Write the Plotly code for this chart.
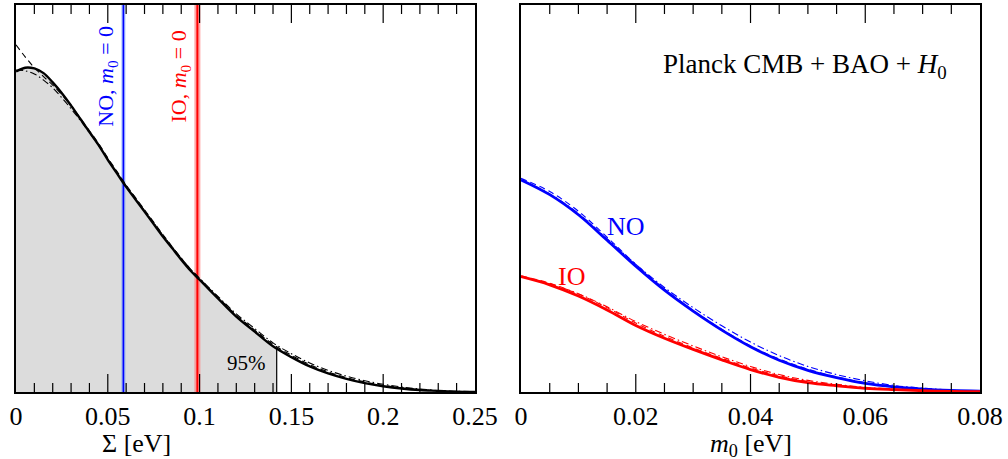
import numpy as np
import plotly.graph_objects as go

# ---------------- data ----------------
sigma = [0, 0.005, 0.01, 0.015, 0.02, 0.025, 0.03, 0.035, 0.04, 0.045, 0.05, 0.055,
         0.06, 0.065, 0.07, 0.075, 0.08, 0.085, 0.09, 0.095, 0.10, 0.11, 0.12, 0.13,
         0.14, 0.15, 0.16, 0.17, 0.18, 0.19, 0.20, 0.21, 0.22, 0.23, 0.24, 0.25]
post_solid = [0.828, 0.838, 0.836, 0.824, 0.800, 0.772, 0.740, 0.706, 0.672, 0.638, 0.600, 0.565,
              0.530, 0.498, 0.466, 0.434, 0.402, 0.372, 0.342, 0.314, 0.290, 0.242, 0.195, 0.156,
              0.118, 0.090, 0.066, 0.048, 0.034, 0.023, 0.015, 0.009, 0.005, 0.003, 0.001, 0.0]
post_dash = [0.897, 0.866, 0.838, 0.815, 0.793, 0.768, 0.740, 0.708, 0.675, 0.642, 0.605, 0.570,
             0.535, 0.503, 0.471, 0.439, 0.407, 0.376, 0.346, 0.318, 0.293, 0.245, 0.199, 0.160,
             0.123, 0.095, 0.071, 0.052, 0.037, 0.026, 0.017, 0.011, 0.006, 0.003, 0.001, 0.0]
post_dashdot = [0.832, 0.830, 0.822, 0.806, 0.786, 0.760, 0.732, 0.702, 0.670, 0.637, 0.602, 0.567,
                0.533, 0.501, 0.469, 0.437, 0.405, 0.375, 0.346, 0.318, 0.294, 0.247, 0.202, 0.164,
                0.127, 0.099, 0.075, 0.056, 0.041, 0.029, 0.020, 0.013, 0.008, 0.004, 0.002, 0.001]
sigma_95 = 0.142
sigma_NO_min = 0.0585
sigma_IO_min = 0.0988

m0 = [0, 0.005, 0.01, 0.015, 0.02, 0.025, 0.03, 0.035, 0.04, 0.045, 0.05, 0.055,
      0.06, 0.065, 0.07, 0.075, 0.08]
no_solid = [0.548, 0.510, 0.458, 0.392, 0.325, 0.263, 0.209, 0.160, 0.117, 0.082, 0.056, 0.037,
            0.022, 0.013, 0.0075, 0.004, 0.002]
no_dash = [0.552, 0.518, 0.467, 0.400, 0.330, 0.266, 0.211, 0.162, 0.119, 0.085, 0.059, 0.039,
           0.024, 0.014, 0.008, 0.004, 0.002]
no_dashdot = [0.548, 0.512, 0.461, 0.396, 0.330, 0.270, 0.218, 0.171, 0.129, 0.094, 0.066, 0.045,
              0.029, 0.017, 0.010, 0.005, 0.002]
io_solid = [0.298, 0.277, 0.248, 0.212, 0.172, 0.139, 0.110, 0.083, 0.058, 0.038, 0.024, 0.016,
            0.0095, 0.006, 0.0033, 0.0015, 0.0008]
io_dash = [0.300, 0.281, 0.253, 0.218, 0.178, 0.144, 0.114, 0.087, 0.062, 0.042, 0.027, 0.018,
           0.011, 0.007, 0.004, 0.002, 0.001]
io_dashdot = [0.298, 0.280, 0.254, 0.220, 0.182, 0.149, 0.119, 0.091, 0.066, 0.045, 0.030, 0.020,
              0.012, 0.008, 0.004, 0.002, 0.001]

left_range, left_major, left_minor = [0, 0.25], 0.05, 0.01
right_range, right_major, right_minor = [0, 0.08], 0.02, 0.005

FONT = "Liberation Serif, Times New Roman, serif"
BLUE = "#0000ff"
RED = "#ff0000"

fig = go.Figure()

# shaded 95% region
s_arr = np.array(sigma)
p_arr = np.array(post_solid)
mask = s_arr < sigma_95
fill_x = list(s_arr[mask]) + [sigma_95]
fill_y = list(p_arr[mask]) + [float(np.interp(sigma_95, s_arr, p_arr))]
fig.add_trace(go.Scatter(x=fill_x, y=fill_y, mode="lines", fill="tozeroy",
                         fillcolor="#dcdcdc", line=dict(width=0, color="#dcdcdc"),
                         line_shape="spline", xaxis="x", yaxis="y", hoverinfo="skip"))
# 95% vertical line
fig.add_trace(go.Scatter(x=[sigma_95, sigma_95], y=[0, fill_y[-1]], mode="lines",
                         line=dict(color="black", width=1.2), xaxis="x", yaxis="y"))

# NO / IO minimum lines
for val, halo, core, hw, cw in [(sigma_NO_min, "rgba(100,150,255,0.55)", BLUE, 4, 1.6),
                                (sigma_IO_min, "rgba(255,130,130,0.7)", RED, 6, 2)]:
    fig.add_trace(go.Scatter(x=[val, val], y=[0, 1], mode="lines",
                             line=dict(color=halo, width=hw), xaxis="x", yaxis="y"))
    fig.add_trace(go.Scatter(x=[val, val], y=[0, 1], mode="lines",
                             line=dict(color=core, width=cw), xaxis="x", yaxis="y"))

# left curves
fig.add_trace(go.Scatter(x=sigma, y=post_dash, mode="lines", line_shape="spline",
                         line=dict(color="black", width=1.1, dash="6px,4px"), xaxis="x", yaxis="y"))
fig.add_trace(go.Scatter(x=sigma, y=post_dashdot, mode="lines", line_shape="spline",
                         line=dict(color="black", width=1.1, dash="7px,3px,1.5px,3px"), xaxis="x", yaxis="y"))
fig.add_trace(go.Scatter(x=sigma, y=post_solid, mode="lines", line_shape="spline",
                         line=dict(color="black", width=2.4), xaxis="x", yaxis="y"))

# right curves
for c, sol, da, dd in [(BLUE, no_solid, no_dash, no_dashdot), (RED, io_solid, io_dash, io_dashdot)]:
    fig.add_trace(go.Scatter(x=m0, y=da, mode="lines", line_shape="spline",
                             line=dict(color=c, width=1.1, dash="6px,4px"), xaxis="x2", yaxis="y2"))
    fig.add_trace(go.Scatter(x=m0, y=dd, mode="lines", line_shape="spline",
                             line=dict(color=c, width=1.1, dash="7px,3px,1.5px,3px"), xaxis="x2", yaxis="y2"))
    fig.add_trace(go.Scatter(x=m0, y=sol, mode="lines", line_shape="spline",
                             line=dict(color=c, width=2.8), xaxis="x2", yaxis="y2"))

tickfont = dict(family=FONT, size=26, color="black")
DOM_L = [0, 0.4761]
DOM_R = [0.5239, 1]


def main_axis(domain, rng, major, anchor):
    return dict(domain=domain, range=rng, anchor=anchor, tickmode="linear", tick0=0, dtick=major,
                showline=True, linecolor="black", linewidth=2, mirror=True, ticks="",
                showgrid=False, zeroline=False, tickfont=tickfont, automargin=False)


fig.update_layout(
    width=1008, height=459,
    margin=dict(l=16, r=28, t=5, b=67, autoexpand=False),
    paper_bgcolor="white", plot_bgcolor="white",
    showlegend=False,
    xaxis=main_axis(DOM_L, left_range, left_major, "y"),
    yaxis=dict(anchor="x", range=[0, 1], showline=True, linecolor="black", linewidth=2, mirror=True,
               showticklabels=False, showgrid=False, zeroline=False, automargin=False),
    xaxis2=main_axis(DOM_R, right_range, right_major, "y2"),
    yaxis2=dict(anchor="x2", range=[0, 1], showline=True, linecolor="black", linewidth=2, mirror=True,
                showticklabels=False, showgrid=False, zeroline=False, automargin=False),
)

# tick marks (inside, bottom and top) as pixel-sized shapes placed at the axis tick positions
shapes = []
for xref, yref, rng, major, minor in [("x", "y", left_range, left_major, left_minor),
                                      ("x2", "y2", right_range, right_major, right_minor)]:
    n_minor = int(round((rng[1] - rng[0]) / minor))
    ratio = int(round(major / minor))
    for i in range(1, n_minor):
        xv = rng[0] + i * minor
        length = 18 if i % ratio == 0 else 9
        for anchor, sign in [(0, 1), (1, -1)]:
            shapes.append(dict(type="line", xref=xref, yref=yref, x0=xv, x1=xv,
                               ysizemode="pixel", yanchor=anchor, y0=0, y1=sign * length,
                               line=dict(color="black", width=1.2), layer="above"))
fig.update_layout(shapes=shapes)

ann = []
ann.append(dict(x=0.1245, y=-0.1318, xref="paper", yref="paper", text="Σ [eV]", showarrow=False,
                font=dict(family=FONT, size=26, color="black"), xanchor="center", yanchor="middle"))
ann.append(dict(x=0.762, y=-0.138, xref="paper", yref="paper", text="<i>m</i><sub>0</sub> [eV]",
                showarrow=False, font=dict(family=FONT, size=26, color="black"),
                xanchor="center", yanchor="middle"))
ann.append(dict(x=0.1373, y=0.075, xref="x", yref="y", text="95%", showarrow=False,
                font=dict(family=FONT, size=21, color="black"), xanchor="right", yanchor="middle"))
ann.append(dict(x=0.0496, y=0.815, xref="x", yref="y", text="NO, <i>m</i><sub>0</sub> = 0",
                textangle=-90, showarrow=False, font=dict(family=FONT, size=22, color=BLUE),
                xanchor="center", yanchor="middle"))
ann.append(dict(x=0.0893, y=0.815, xref="x", yref="y", text="IO, <i>m</i><sub>0</sub> = 0",
                textangle=-90, showarrow=False, font=dict(family=FONT, size=22, color=RED),
                xanchor="center", yanchor="middle"))
ann.append(dict(x=(805 - 521) / 5737.5, y=(392 - 66) / 387, xref="x2", yref="y2",
                text="Planck CMB + BAO + <i>H</i><sub>0</sub>", showarrow=False,
                font=dict(family=FONT, size=27, color="black"), xanchor="center", yanchor="middle"))
ann.append(dict(x=(626 - 521) / 5737.5, y=(392 - 226) / 387, xref="x2", yref="y2", text="NO",
                showarrow=False, font=dict(family=FONT, size=26, color=BLUE),
                xanchor="center", yanchor="middle"))
ann.append(dict(x=(571 - 521) / 5737.5, y=(392 - 276) / 387, xref="x2", yref="y2", text="IO",
                showarrow=False, font=dict(family=FONT, size=26, color=RED),
                xanchor="center", yanchor="middle"))
fig.update_layout(annotations=ann)

fig.write_html("out.html", config={"displayModeBar": False},
               post_script="document.body.style.margin='0';document.body.style.padding='0';")
